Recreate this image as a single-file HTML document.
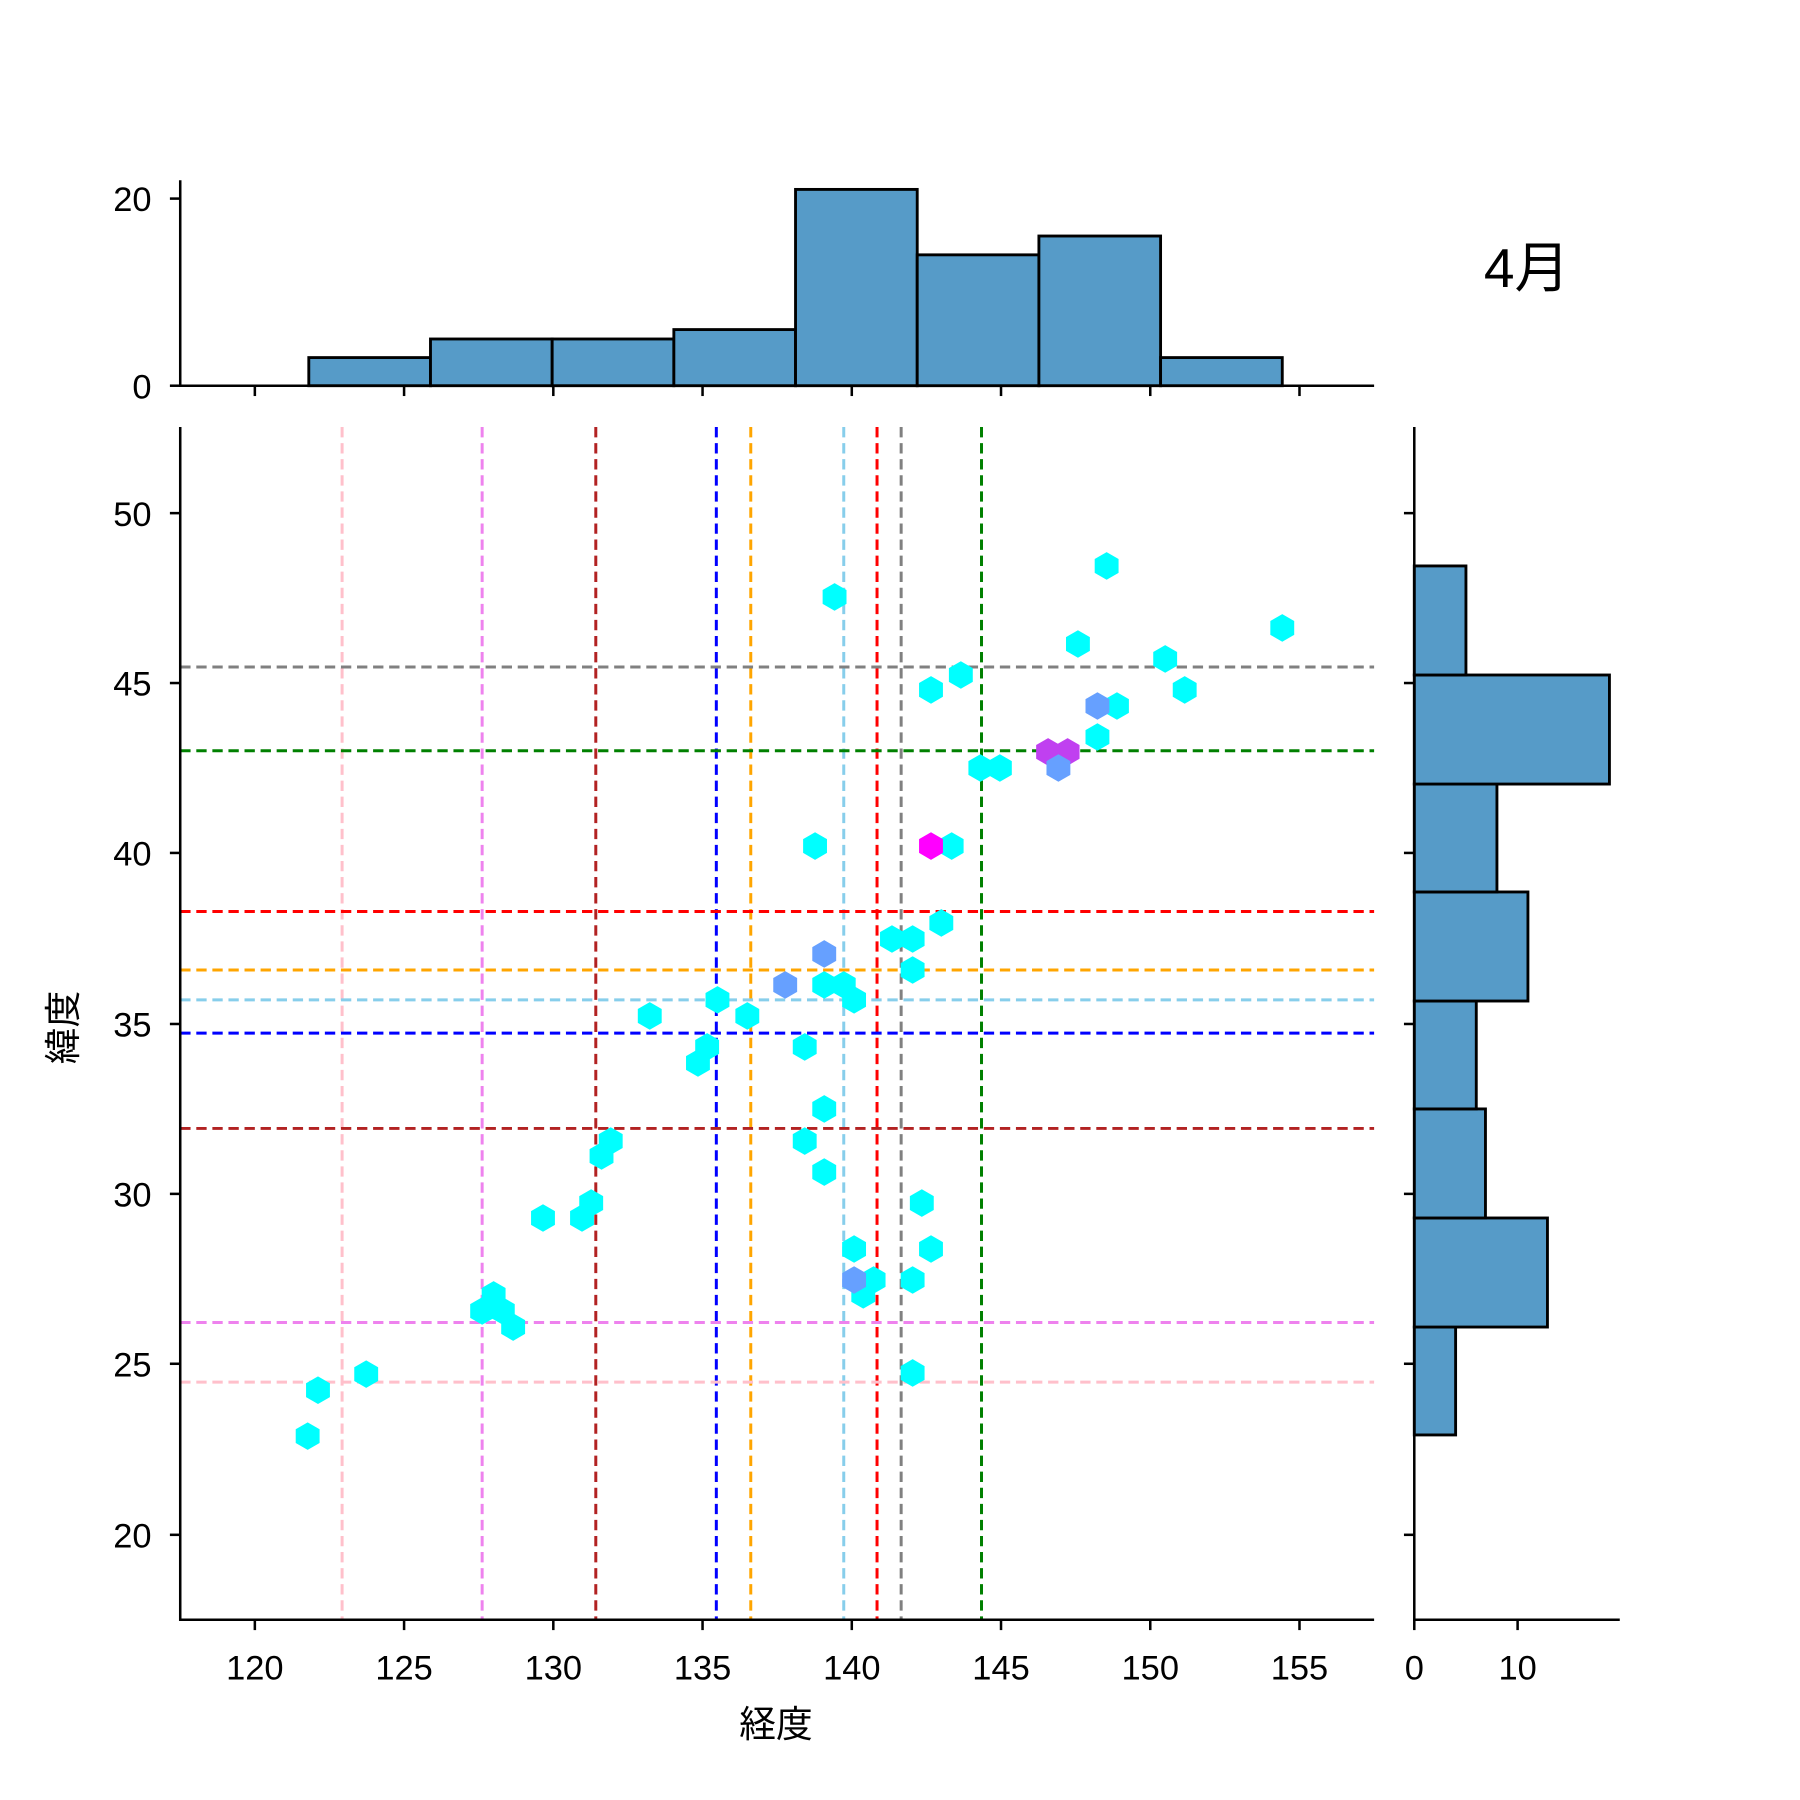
<!DOCTYPE html>
<html><head><meta charset="utf-8"><style>html,body{margin:0;padding:0;background:#fff}svg{display:block}</style></head>
<body>
<svg xmlns="http://www.w3.org/2000/svg" width="1800" height="1800" viewBox="0 0 1568 1568">
<defs>
<polygon id="h" points="0,-12 10.4,-6 10.4,6 0,12 -10.4,6 -10.4,-6"/>
</defs>
<rect width="1568" height="1568" fill="#fff"/>
<g font-family="'Liberation Sans','Noto Sans CJK JP',sans-serif" fill="#000">
<!-- top hist -->
<g fill="#569bc8" stroke="#000" stroke-width="2.5">
<rect x="269" y="311.5" width="106" height="24.5"/>
<rect x="375" y="295.3" width="106" height="40.7"/>
<rect x="481" y="295.3" width="106" height="40.7"/>
<rect x="587" y="287.1" width="106" height="48.9"/>
<rect x="693" y="165" width="106" height="171"/>
<rect x="799" y="222" width="106" height="114"/>
<rect x="905" y="205.6" width="106" height="130.4"/>
<rect x="1011" y="311.5" width="106" height="24.5"/>
</g>
<g stroke="#000" stroke-width="2.2" fill="none">
<line x1="157" y1="157" x2="157" y2="337"/>
<line x1="156" y1="336" x2="1197" y2="336"/>
<line x1="148" y1="336" x2="157" y2="336"/><line x1="148" y1="173" x2="157" y2="173"/>
<line x1="222" y1="336" x2="222" y2="345"/><line x1="352" y1="336" x2="352" y2="345"/><line x1="482" y1="336" x2="482" y2="345"/><line x1="612" y1="336" x2="612" y2="345"/><line x1="742" y1="336" x2="742" y2="345"/><line x1="872" y1="336" x2="872" y2="345"/><line x1="1002" y1="336" x2="1002" y2="345"/><line x1="1132" y1="336" x2="1132" y2="345"/>
</g>
<g font-size="30" text-anchor="end">
<text x="132" y="347">0</text><text x="132" y="184">20</text>
</g>
<text x="1330" y="250" font-size="48" text-anchor="middle">4月</text>
<!-- right hist -->
<g fill="#569bc8" stroke="#000" stroke-width="2.5">
<rect x="1232" y="1156" width="36" height="94"/>
<rect x="1232" y="1061" width="116" height="95"/>
<rect x="1232" y="966" width="62" height="95"/>
<rect x="1232" y="872" width="54" height="94"/>
<rect x="1232" y="777" width="99" height="95"/>
<rect x="1232" y="683" width="72" height="94"/>
<rect x="1232" y="588" width="170" height="95"/>
<rect x="1232" y="493" width="45" height="95"/>
</g>
<g stroke="#000" stroke-width="2.2" fill="none">
<line x1="1232" y1="372" x2="1232" y2="1412"/>
<line x1="1231" y1="1411" x2="1411" y2="1411"/>
<line x1="1232" y1="1411" x2="1232" y2="1420"/><line x1="1322" y1="1411" x2="1322" y2="1420"/>
<line x1="1223" y1="447" x2="1232" y2="447"/><line x1="1223" y1="595" x2="1232" y2="595"/><line x1="1223" y1="743" x2="1232" y2="743"/><line x1="1223" y1="892" x2="1232" y2="892"/><line x1="1223" y1="1040" x2="1232" y2="1040"/><line x1="1223" y1="1188" x2="1232" y2="1188"/><line x1="1223" y1="1337" x2="1232" y2="1337"/>
</g>
<g font-size="30" text-anchor="middle"><text x="1232" y="1463">0</text><text x="1322" y="1463">10</text></g>
<!-- main ref lines -->
<g stroke-width="2.6" stroke-dasharray="9,5" fill="none">
<line x1="298" y1="372" x2="298" y2="1411" stroke="#ffc0cb"/>
<line x1="420" y1="372" x2="420" y2="1411" stroke="#ee82ee"/>
<line x1="519" y1="372" x2="519" y2="1411" stroke="#b22222"/>
<line x1="624" y1="372" x2="624" y2="1411" stroke="#0000ff"/>
<line x1="654" y1="372" x2="654" y2="1411" stroke="#ffa500"/>
<line x1="735" y1="372" x2="735" y2="1411" stroke="#87ceeb"/>
<line x1="764" y1="372" x2="764" y2="1411" stroke="#ff0000"/>
<line x1="785" y1="372" x2="785" y2="1411" stroke="#808080"/>
<line x1="855" y1="372" x2="855" y2="1411" stroke="#008000"/>
<line x1="157" y1="581" x2="1197" y2="581" stroke="#808080"/>
<line x1="157" y1="654" x2="1197" y2="654" stroke="#008000"/>
<line x1="157" y1="794" x2="1197" y2="794" stroke="#ff0000"/>
<line x1="157" y1="845" x2="1197" y2="845" stroke="#ffa500"/>
<line x1="157" y1="871" x2="1197" y2="871" stroke="#87ceeb"/>
<line x1="157" y1="900" x2="1197" y2="900" stroke="#0000ff"/>
<line x1="157" y1="983" x2="1197" y2="983" stroke="#b22222"/>
<line x1="157" y1="1152" x2="1197" y2="1152" stroke="#ee82ee"/>
<line x1="157" y1="1204" x2="1197" y2="1204" stroke="#ffc0cb"/>
</g>
<!-- hexes -->
<g fill="#00ffff">
<use href="#h" x="268" y="1251"/><use href="#h" x="277" y="1211"/><use href="#h" x="319" y="1197"/>
<use href="#h" x="420" y="1142"/><use href="#h" x="430" y="1128"/><use href="#h" x="438" y="1142"/><use href="#h" x="447" y="1156"/>
<use href="#h" x="473" y="1061"/><use href="#h" x="507" y="1061"/><use href="#h" x="515" y="1048"/><use href="#h" x="524" y="1007"/><use href="#h" x="532" y="994"/>
<use href="#h" x="566" y="885"/><use href="#h" x="608" y="926"/><use href="#h" x="616" y="912"/><use href="#h" x="625" y="871"/><use href="#h" x="651" y="885"/>
<use href="#h" x="701" y="912"/><use href="#h" x="701" y="994"/><use href="#h" x="718" y="966"/><use href="#h" x="718" y="1021"/><use href="#h" x="718" y="858"/>
<use href="#h" x="710" y="737"/><use href="#h" x="727" y="520"/><use href="#h" x="735" y="858"/><use href="#h" x="744" y="871"/><use href="#h" x="744" y="1088"/>
<use href="#h" x="752" y="1128"/><use href="#h" x="761" y="1115"/><use href="#h" x="777" y="818"/><use href="#h" x="795" y="818"/><use href="#h" x="795" y="845"/>
<use href="#h" x="795" y="1115"/><use href="#h" x="795" y="1196"/><use href="#h" x="803" y="1048"/><use href="#h" x="811" y="1088"/><use href="#h" x="820" y="804"/>
<use href="#h" x="811" y="601"/><use href="#h" x="829" y="737"/><use href="#h" x="837" y="588"/><use href="#h" x="854" y="669"/><use href="#h" x="871" y="669"/>
<use href="#h" x="956" y="642"/><use href="#h" x="973" y="615"/><use href="#h" x="939" y="561"/><use href="#h" x="964" y="493"/><use href="#h" x="1015" y="574"/>
<use href="#h" x="1032" y="601"/><use href="#h" x="1117" y="547"/>
</g>
<g fill="#66a0ff">
<use href="#h" x="744" y="1115"/><use href="#h" x="684" y="858"/><use href="#h" x="718" y="831"/><use href="#h" x="956" y="615"/>
</g>
<g fill="#c040f0"><use href="#h" x="913" y="655"/><use href="#h" x="930" y="655"/></g>
<g fill="#66a0ff"><use href="#h" x="922" y="669"/></g>
<use href="#h" x="811" y="737" fill="#ff00ff"/>
<!-- main axes -->
<g stroke="#000" stroke-width="2.2" fill="none">
<line x1="157" y1="372" x2="157" y2="1412"/>
<line x1="156" y1="1411" x2="1197" y2="1411"/>
<line x1="222" y1="1411" x2="222" y2="1420"/><line x1="352" y1="1411" x2="352" y2="1420"/><line x1="482" y1="1411" x2="482" y2="1420"/><line x1="612" y1="1411" x2="612" y2="1420"/><line x1="742" y1="1411" x2="742" y2="1420"/><line x1="872" y1="1411" x2="872" y2="1420"/><line x1="1002" y1="1411" x2="1002" y2="1420"/><line x1="1132" y1="1411" x2="1132" y2="1420"/>
<line x1="148" y1="447" x2="157" y2="447"/><line x1="148" y1="595" x2="157" y2="595"/><line x1="148" y1="743" x2="157" y2="743"/><line x1="148" y1="892" x2="157" y2="892"/><line x1="148" y1="1040" x2="157" y2="1040"/><line x1="148" y1="1188" x2="157" y2="1188"/><line x1="148" y1="1337" x2="157" y2="1337"/>
</g>
<g font-size="30" text-anchor="middle">
<text x="222" y="1463">120</text><text x="352" y="1463">125</text><text x="482" y="1463">130</text><text x="612" y="1463">135</text><text x="742" y="1463">140</text><text x="872" y="1463">145</text><text x="1002" y="1463">150</text><text x="1132" y="1463">155</text>
</g>
<g font-size="30" text-anchor="end">
<text x="132" y="458">50</text><text x="132" y="606">45</text><text x="132" y="754">40</text><text x="132" y="903">35</text><text x="132" y="1051">30</text><text x="132" y="1199">25</text><text x="132" y="1348">20</text>
</g>
<text x="676" y="1513" font-size="32" text-anchor="middle">経度</text>
<text transform="translate(66,895) rotate(-90)" font-size="32" text-anchor="middle">緯度</text>
</g>
</svg>
</body></html>
